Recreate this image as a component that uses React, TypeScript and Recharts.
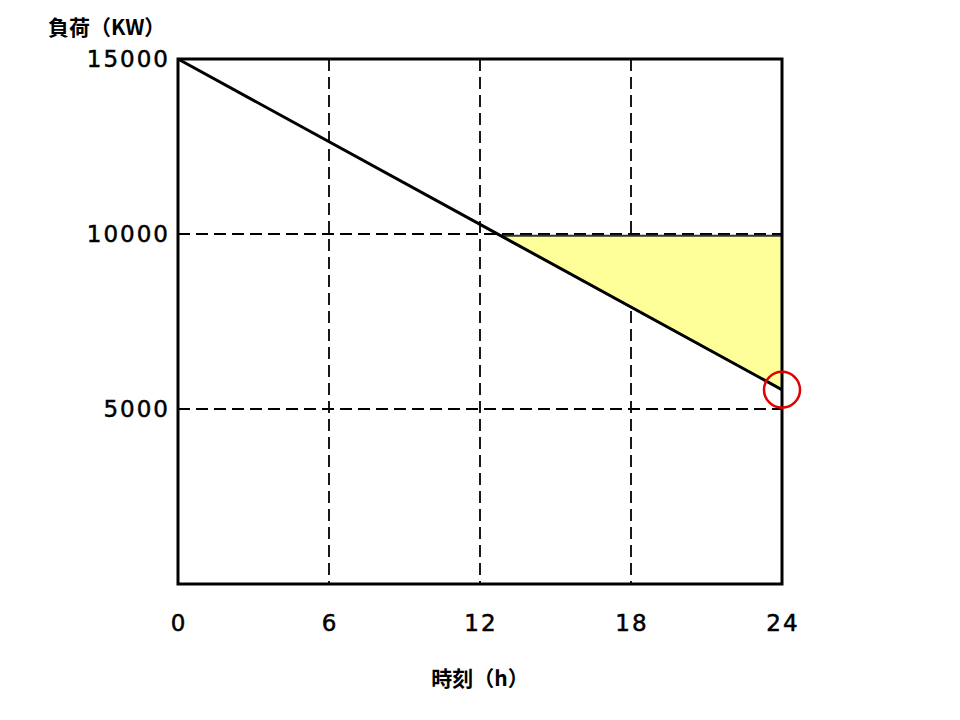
import React from "react";
import {
  ComposedChart,
  Line,
  Area,
  XAxis,
  YAxis,
  CartesianGrid,
  ReferenceArea,
  ReferenceDot,
  Label,
} from "recharts";

// hours of the day
const hours = [0, 12.8, 24];
// load line (kW)
const loadValues = [15000, 9960, 5550];
// shaded band [low, high] (kW); null where there is no shading
const bandValues: ([number, number] | null)[] = [null, [9960, 9950], [5550, 9950]];

const xTicks = [0, 6, 12, 18, 24];
const yTicks = [5000, 10000, 15000];

const data = hours.map((h, i) => ({ h, load: loadValues[i], band: bandValues[i] }));

const FONT = "'Noto Sans CJK JP', 'Noto Sans', sans-serif";
const NUMFONT = "'DejaVu Sans', 'Noto Sans', sans-serif";

const tickStyle = {
  fill: "#000",
  stroke: "#000",
  strokeWidth: 0.5,
  fontSize: 23,
  fontFamily: NUMFONT,
  letterSpacing: 2,
};

export default function App() {
  return (
    <div style={{ position: "absolute", left: 0, top: 0, width: 960, height: 720, background: "#fff" }}>
      <ComposedChart
        width={960}
        height={720}
        data={data}
        margin={{ top: 59, right: 178, left: 0, bottom: 96 }}
      >
        <CartesianGrid stroke="#000" strokeWidth={1.8} strokeDasharray="12 6" />
        <XAxis
          dataKey="h"
          type="number"
          domain={[0, 24]}
          ticks={xTicks}
          height={40}
          axisLine={false}
          tickLine={false}
          tickMargin={25}
          tick={{ ...tickStyle, dx: 1 }}
        >
          <Label
            value="時刻（h）"
            position="bottom"
            offset={47}
            style={{ fill: "#000", fontSize: 21, fontFamily: FONT, fontWeight: 700 }}
          />
        </XAxis>
        <YAxis
          type="number"
          domain={[0, 15000]}
          ticks={yTicks}
          width={178}
          axisLine={false}
          tickLine={false}
          tickMargin={2}
          tick={tickStyle}
          label={(props: any) => {
            const vb = props.viewBox || { x: 0, y: 59 };
            return (
              <text
                x={vb.x + 48}
                y={vb.y - 33}
                dominantBaseline="central"
                style={{ fill: "#000", fontSize: 21, fontFamily: FONT, fontWeight: 700 }}
              >
                負荷（KW）
              </text>
            );
          }}
        />
        <Area
          dataKey="band"
          type="linear"
          fill="#FFFF99"
          fillOpacity={1}
          stroke="#333"
          strokeWidth={2}
          isAnimationActive={false}
          dot={false}
          activeDot={false}
        />
        <Line
          dataKey="load"
          type="linear"
          stroke="#000"
          strokeWidth={3}
          dot={false}
          activeDot={false}
          isAnimationActive={false}
        />
        <ReferenceArea
          x1={0}
          x2={24}
          y1={0}
          y2={15000}
          fill="none"
          fillOpacity={0}
          stroke="#000"
          strokeWidth={3}
          ifOverflow="visible"
        />
        <ReferenceDot
          x={24}
          y={5550}
          r={18}
          fill="none"
          stroke="#E00000"
          strokeWidth={2.5}
          ifOverflow="visible"
        />
      </ComposedChart>
    </div>
  );
}
